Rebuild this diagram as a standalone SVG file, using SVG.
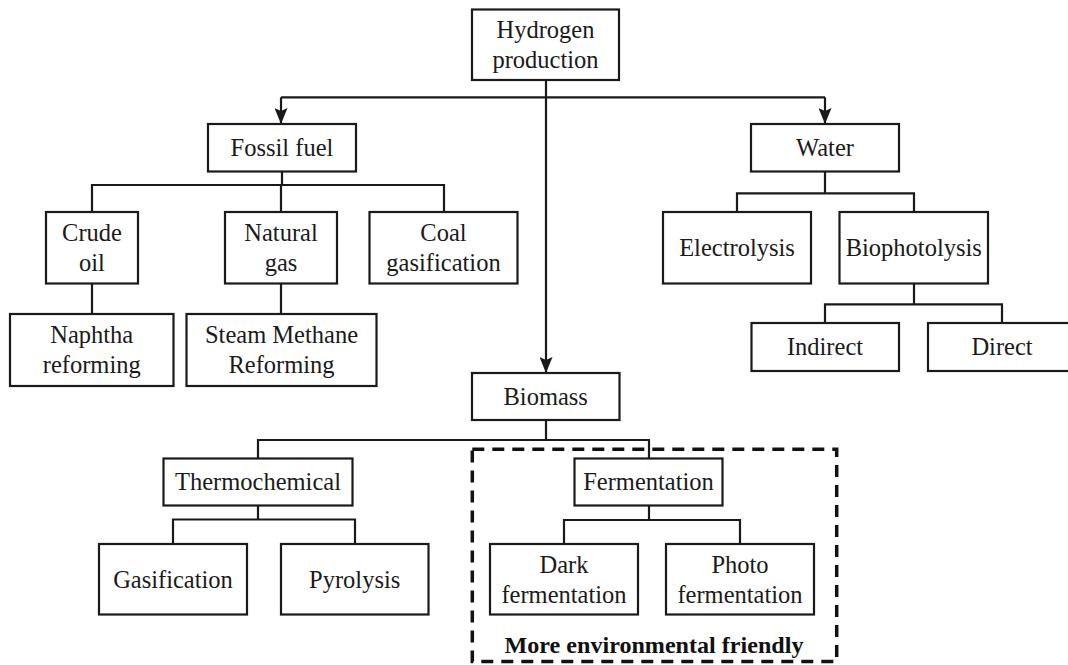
<svg xmlns="http://www.w3.org/2000/svg" width="1068" height="665" viewBox="0 0 1068 665">
  <style>
    .box { fill: #ffffff; stroke: #1a1a1a; stroke-width: 2.2; }
    .lbl { font-family: "Liberation Serif", "Times New Roman", serif; font-size: 24.5px; fill: #1a1a1a; text-anchor: middle; }
    .con { fill: none; stroke: #1a1a1a; stroke-width: 2.2; }
    .dash { fill: none; stroke: #111111; stroke-width: 3.5; stroke-dasharray: 12 8; }
    .note { font-family: "Liberation Serif", "Times New Roman", serif; font-size: 22.5px; font-weight: bold; fill: #111111; text-anchor: middle; }
  </style>
  <defs>
    <marker id="arr" viewBox="0 0 16 13" refX="16" refY="6.5" markerWidth="16" markerHeight="13" markerUnits="userSpaceOnUse" orient="auto">
      <path d="M0,0 L16,6.5 L0,13 L3,6.5 Z" fill="#1a1a1a"/>
    </marker>
  </defs>
  <rect width="1068" height="665" fill="#ffffff"/>

  <g id="connectors">
    <path class="con" d="M546 80 V373" marker-end="url(#arr)"/>
    <path class="con" d="M281 97.3 H825"/>
    <path class="con" d="M281 97.3 V124" marker-end="url(#arr)"/>
    <path class="con" d="M825 97.3 V124" marker-end="url(#arr)"/>
    <path class="con" d="M282 171.5 V185 M92 212 V185 H444 V212 M281 185 V212"/>
    <path class="con" d="M92 283.5 V314 M281 283.5 V314"/>
    <path class="con" d="M825 171.5 V193.3 M737 212 V193.3 H914 V212"/>
    <path class="con" d="M914 283.5 V304.3 M825 323 V304.3 H1002 V323"/>
    <path class="con" d="M546 420 V440 M258 458.5 V440 H649 V458.5"/>
    <path class="con" d="M258 505.5 V519.5 M173 544 V519.5 H355 V544"/>
    <path class="con" d="M649 505.5 V520 M564 544 V520 H740 V544"/>
  </g>

  <g id="friendly-region">
    <rect class="dash" x="472.3" y="449.3" width="364.4" height="212.2"/>
    <text class="note" x="654" y="653" textLength="299" lengthAdjust="spacingAndGlyphs">More environmental friendly</text>
  </g>

  <g id="hydrogen-production">
    <rect class="box" x="472" y="9.5" width="147" height="70.5"/>
    <text class="lbl" x="545.5" y="38">Hydrogen</text>
    <text class="lbl" x="545.5" y="68">production</text>
  </g>
  <g id="fossil-fuel">
    <rect class="box" x="208" y="124" width="148" height="47.5"/>
    <text class="lbl" x="282" y="156">Fossil fuel</text>
  </g>
  <g id="water">
    <rect class="box" x="751" y="124" width="148" height="47.5"/>
    <text class="lbl" x="825" y="156">Water</text>
  </g>
  <g id="crude-oil">
    <rect class="box" x="46" y="212" width="92" height="71.5"/>
    <text class="lbl" x="92" y="241">Crude</text>
    <text class="lbl" x="92" y="271">oil</text>
  </g>
  <g id="natural-gas">
    <rect class="box" x="225" y="212" width="112" height="71.5"/>
    <text class="lbl" x="281" y="241">Natural</text>
    <text class="lbl" x="281" y="271">gas</text>
  </g>
  <g id="coal-gasification">
    <rect class="box" x="369.5" y="212" width="148" height="71.5"/>
    <text class="lbl" x="443.5" y="241">Coal</text>
    <text class="lbl" x="443.5" y="271">gasification</text>
  </g>
  <g id="naphtha-reforming">
    <rect class="box" x="10" y="314" width="163.5" height="72"/>
    <text class="lbl" x="91.75" y="343.3">Naphtha</text>
    <text class="lbl" x="91.75" y="373.3">reforming</text>
  </g>
  <g id="steam-methane-reforming">
    <rect class="box" x="186.5" y="314" width="190" height="72"/>
    <text class="lbl" x="281.5" y="343.3">Steam Methane</text>
    <text class="lbl" x="281.5" y="373.3">Reforming</text>
  </g>
  <g id="electrolysis">
    <rect class="box" x="663" y="212" width="148" height="71.5"/>
    <text class="lbl" x="737" y="256">Electrolysis</text>
  </g>
  <g id="biophotolysis">
    <rect class="box" x="839.5" y="212" width="148.5" height="71.5"/>
    <text class="lbl" x="913.75" y="256">Biophotolysis</text>
  </g>
  <g id="indirect">
    <rect class="box" x="751.5" y="323" width="147.5" height="48"/>
    <text class="lbl" x="825" y="355.3">Indirect</text>
  </g>
  <g id="direct">
    <rect class="box" x="928" y="323" width="148" height="48"/>
    <text class="lbl" x="1002" y="355.3">Direct</text>
  </g>
  <g id="biomass">
    <rect class="box" x="472" y="373" width="147.5" height="47"/>
    <text class="lbl" x="545.7" y="404.8">Biomass</text>
  </g>
  <g id="thermochemical">
    <rect class="box" x="163.5" y="458.5" width="189" height="47"/>
    <text class="lbl" x="258" y="490.3">Thermochemical</text>
  </g>
  <g id="fermentation">
    <rect class="box" x="574.5" y="458.5" width="148" height="47"/>
    <text class="lbl" x="648.5" y="490.3">Fermentation</text>
  </g>
  <g id="gasification">
    <rect class="box" x="99" y="544" width="148" height="70.5"/>
    <text class="lbl" x="173" y="587.5">Gasification</text>
  </g>
  <g id="pyrolysis">
    <rect class="box" x="281" y="544" width="147.5" height="70.5"/>
    <text class="lbl" x="354.7" y="587.5">Pyrolysis</text>
  </g>
  <g id="dark-fermentation">
    <rect class="box" x="490" y="544" width="148" height="70.5"/>
    <text class="lbl" x="564" y="572.5">Dark</text>
    <text class="lbl" x="564" y="602.5">fermentation</text>
  </g>
  <g id="photo-fermentation">
    <rect class="box" x="666" y="544" width="148" height="70.5"/>
    <text class="lbl" x="740" y="572.5">Photo</text>
    <text class="lbl" x="740" y="602.5">fermentation</text>
  </g>
</svg>
